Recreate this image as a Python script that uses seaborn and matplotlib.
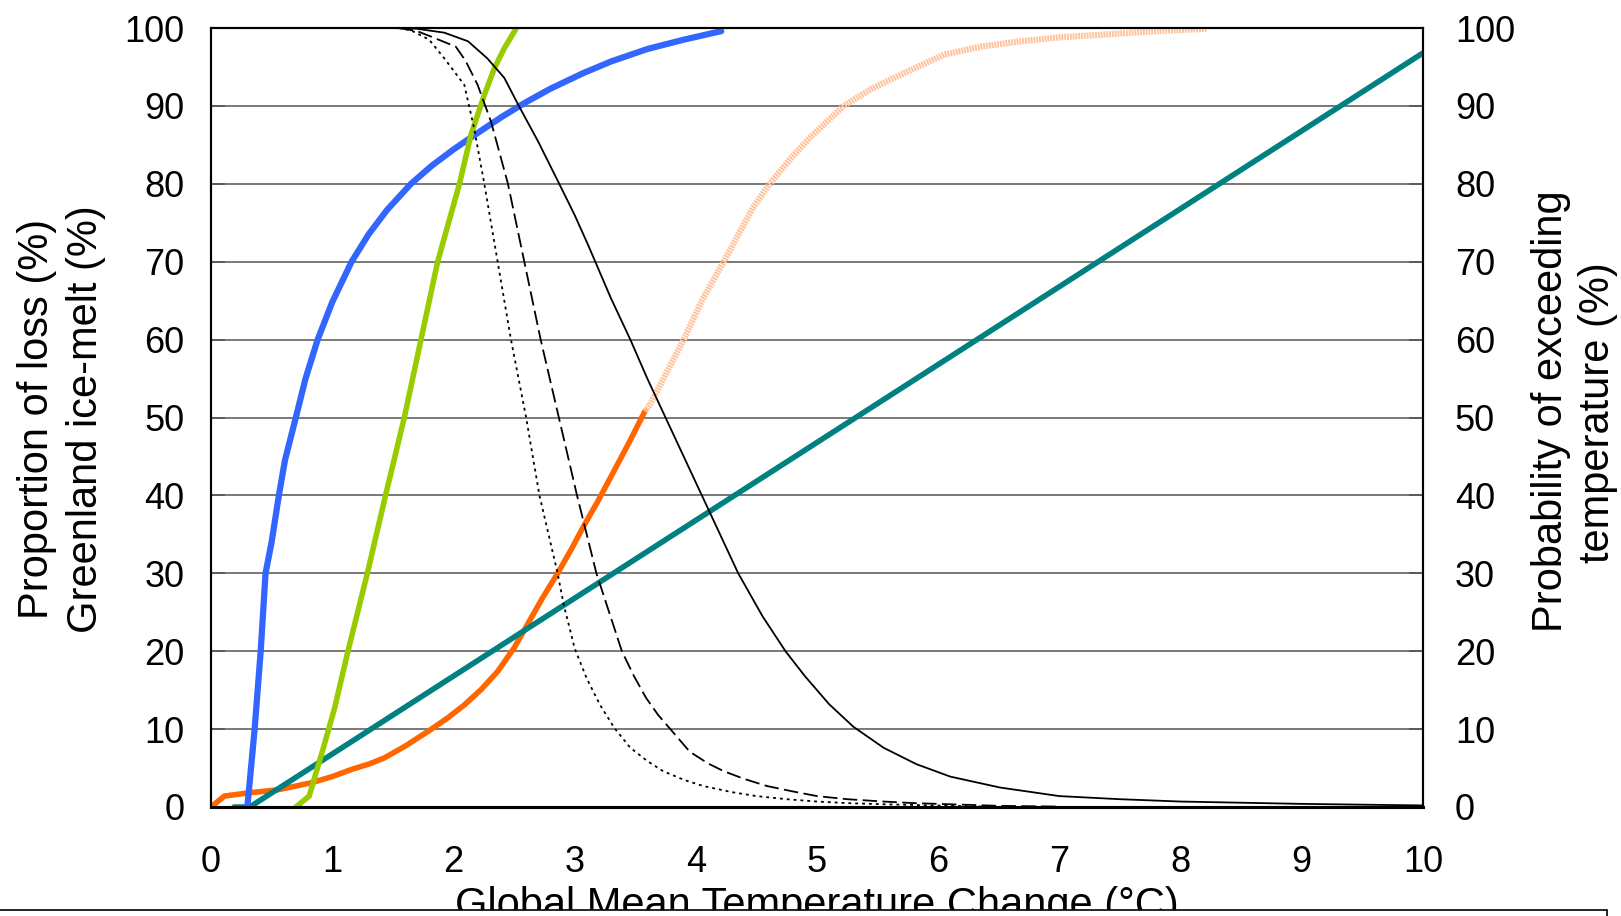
import numpy as np
import pandas as pd
import matplotlib
matplotlib.use("Agg")
import matplotlib.pyplot as plt
import matplotlib.patches as mpatches
import seaborn as sns

# ---------------- data ----------------
x_ticks = [0, 1, 2, 3, 4, 5, 6, 7, 8, 9, 10]
y_ticks = [0, 10, 20, 30, 40, 50, 60, 70, 80, 90, 100]

# Proportion of loss (blue)
blue_x = [0.30, 0.36, 0.41, 0.45, 0.50, 0.56, 0.61, 0.70, 0.78, 0.88, 1.00, 1.16, 1.30,
          1.45, 1.65, 1.82, 2.00, 2.15, 2.40, 2.59, 2.80, 3.07, 3.30, 3.60, 3.90, 4.21]
blue_y = [0.0, 10.0, 20.0, 30.0, 34.0, 40.0, 44.5, 50.0, 55.0, 60.0, 64.8, 70.0, 73.5,
          76.6, 80.0, 82.3, 84.4, 86.0, 88.6, 90.4, 92.2, 94.2, 95.7, 97.3, 98.5, 99.6]

# Greenland ice-melt (green)
green_x = [0.70, 0.81, 0.92, 1.02, 1.13, 1.29, 1.44, 1.595, 1.87, 2.05, 2.145, 2.255, 2.34, 2.42, 2.52]
green_y = [0.0, 1.4, 7.2, 12.7, 20.0, 30.0, 40.0, 50.0, 70.0, 80.0, 86.3, 91.4, 94.9, 97.4, 100.0]

# Teal linear series
teal_x = [0.19, 0.32, 10.0]
teal_y = [0.0, 0.0, 96.8]

# Orange series (solid part)
orange_x = [0.0, 0.11, 0.30, 0.55, 0.825, 1.00, 1.155, 1.30, 1.43, 1.60, 1.79, 1.95, 2.09,
            2.23, 2.365, 2.50, 2.61, 2.73, 2.86, 2.97, 3.08, 3.19, 3.30, 3.45, 3.58]
orange_y = [0.0, 1.4, 1.8, 2.2, 3.1, 3.9, 4.8, 5.5, 6.3, 7.8, 9.7, 11.4, 13.1,
            15.1, 17.4, 20.4, 23.4, 26.7, 30.0, 33.0, 36.2, 39.2, 42.4, 46.8, 50.8]

# Orange series continuation (light part)
peach_x = [3.58, 3.62, 3.75, 3.90, 4.05, 4.23, 4.47, 4.61, 4.78, 4.94, 5.22, 5.45, 5.69,
           6.05, 6.35, 6.68, 7.00, 7.31, 7.80, 8.22]
peach_y = [50.8, 51.6, 55.5, 60.0, 65.0, 70.0, 76.9, 80.0, 83.2, 85.9, 90.0, 92.2, 94.0,
           96.6, 97.6, 98.3, 98.8, 99.1, 99.6, 99.9]

# Probability of exceeding temperature (black solid)
prob_solid_x = [1.49, 1.70, 1.925, 2.12, 2.28, 2.42, 2.54, 2.70, 2.87, 3.00, 3.11, 3.30, 3.46,
                3.60, 3.75, 3.90, 4.05, 4.20, 4.35, 4.55, 4.74, 4.90, 5.10, 5.30, 5.55, 5.82,
                6.10, 6.51, 7.00, 7.50, 8.00, 9.00, 10.0]
prob_solid_y = [100.0, 99.9, 99.4, 98.3, 96.1, 93.6, 90.0, 85.4, 80.1, 76.0, 72.2, 65.3, 60.0,
                55.0, 50.0, 45.0, 40.0, 35.0, 30.0, 24.5, 20.0, 16.8, 13.2, 10.3, 7.6, 5.5,
                3.9, 2.5, 1.4, 1.0, 0.7, 0.4, 0.2]

# black dashed
prob_dash_x = [1.55, 1.70, 1.815, 2.02, 2.10, 2.20, 2.31, 2.45, 2.585, 2.72, 2.87, 3.02, 3.18,
               3.39, 3.49, 3.59, 3.69, 3.79, 3.95, 4.10, 4.23, 4.40, 4.585, 4.80, 5.00, 5.25,
               5.55, 5.80, 6.10, 6.50, 7.00]
prob_dash_y = [100.0, 99.6, 98.9, 97.6, 95.8, 92.7, 88.0, 80.0, 70.0, 60.0, 50.0, 40.0, 30.0,
               20.0, 16.8, 14.0, 11.8, 10.0, 7.1, 5.6, 4.6, 3.6, 2.7, 2.0, 1.4, 1.0,
               0.7, 0.5, 0.35, 0.15, 0.05]

# black dotted
prob_dot_x = [1.55, 1.65, 1.80, 1.925, 2.09, 2.17, 2.255, 2.365, 2.475, 2.60, 2.71, 2.86, 2.91,
              3.00, 3.10, 3.21, 3.33, 3.46, 3.60, 3.73, 3.90, 4.06, 4.30, 4.50, 4.75, 5.00,
              5.25, 5.55, 6.10, 6.40]
prob_dot_y = [100.0, 99.7, 98.5, 96.1, 92.7, 87.2, 80.0, 70.0, 60.0, 50.0, 40.0, 30.0, 26.0,
              20.4, 16.5, 13.1, 10.1, 7.6, 5.9, 4.6, 3.5, 2.7, 1.9, 1.4, 1.0, 0.7,
              0.5, 0.35, 0.15, 0.05]

left_label_lines = ["Proportion of loss (%)", "Greenland ice-melt (%)"]
right_label_lines = ["Probability of exceeding", "temperature (%)"]
x_label = "Global Mean Temperature Change (\u00b0C)"

# ---------------- styling ----------------
sns.set_theme(style="white")
plt.rcParams["font.family"] = ["Liberation Sans", "DejaVu Sans"]

W, H = 1621, 916
fig = plt.figure(figsize=(W / 100, H / 100), dpi=100)
L, R, T, B = 211, 1423, 28, 807
ax = fig.add_axes([L / W, 1 - B / H, (R - L) / W, (B - T) / H])
ax2 = ax.twinx()

def line(axis, xs, ys, **kw):
    df = pd.DataFrame({"x": xs, "y": ys})
    sns.lineplot(data=df, x="x", y="y", ax=axis, sort=False, estimator=None,
                 legend=False, **kw)

line(ax, orange_x, orange_y, color="#FF6600", linewidth=4.0, zorder=3,
     solid_joinstyle="round")
line(ax, peach_x, peach_y, color="#FFC29A", linewidth=4.5, zorder=3,
     linestyle=(0, (0.3, 0.15)), dash_capstyle="butt", dash_joinstyle="round")
line(ax, teal_x, teal_y, color="#008080", linewidth=4.0, zorder=4)
line(ax, blue_x, blue_y, color="#3366FF", linewidth=4.5, zorder=5,
     solid_capstyle="round", solid_joinstyle="round")
line(ax, green_x, green_y, color="#99CC00", linewidth=4.0, zorder=6,
     solid_joinstyle="round")

line(ax2, prob_solid_x, prob_solid_y, color="black", linewidth=1.3,
     solid_joinstyle="round")
line(ax2, prob_dash_x, prob_dash_y, color="black", linewidth=1.3,
     linestyle=(0, (8, 3)))
line(ax2, prob_dot_x, prob_dot_y, color="black", linewidth=1.3,
     linestyle=(0, (1.6, 2.2)))

for a in (ax, ax2):
    a.set_xlim(0, 10)
    a.set_ylim(0, 100)
    a.set_xlabel("")
    a.set_ylabel("")

ax.set_xticks(x_ticks)
ax.set_xticklabels([str(v) for v in x_ticks])
ax.set_yticks(y_ticks)
ax.set_yticklabels([str(v) for v in y_ticks])
ax2.set_yticks(y_ticks)
ax2.set_yticklabels([str(v) for v in y_ticks])

ax.yaxis.grid(True, color="#6e6e6e", linewidth=1.3)
ax.xaxis.grid(False)
ax.set_axisbelow(True)

ax.tick_params(axis="x", direction="in", length=10, width=1.2, color="black",
               pad=27, labelsize=26, labelcolor="black")
ax.tick_params(axis="y", direction="in", length=10, width=1.2, color="#555555",
               pad=19, labelsize=26, labelcolor="black", left=True)
ax2.tick_params(axis="y", direction="in", length=10, width=1.2, color="#555555",
                pad=23, labelsize=26, labelcolor="black", right=True)

for a in (ax, ax2):
    for s in a.spines.values():
        s.set_visible(True)
        s.set_color("black")
        s.set_linewidth(1.5)
    a.spines["bottom"].set_linewidth(2.2)

# axis titles
fs = 30
fig.text(37 / W, 1 - 419 / H, left_label_lines[0], rotation=90, ha="center",
         va="center", fontsize=fs, color="black")
fig.text(86 / W, 1 - 419 / H, left_label_lines[1], rotation=90, ha="center",
         va="center", fontsize=fs, color="black")
fig.text(1551 / W, 1 - 411 / H, right_label_lines[0], rotation=90, ha="center",
         va="center", fontsize=fs, color="black")
fig.text(1598 / W, 1 - 413 / H, right_label_lines[1], rotation=90, ha="center",
         va="center", fontsize=fs, color="black")
fig.text(817 / W, 1 - 886 / H, x_label, ha="center", va="top", fontsize=fs,
         color="black")

# white box with border at the very bottom (cuts the x title)
rect = mpatches.Rectangle((-0.01, -0.01), 1607 / W + 0.01, 0.01 + (H - 910) / H,
                          transform=fig.transFigure, facecolor="white",
                          edgecolor="black", linewidth=1.2, zorder=20)
fig.add_artist(rect)

fig.savefig("out.png", dpi=100, facecolor="white")
